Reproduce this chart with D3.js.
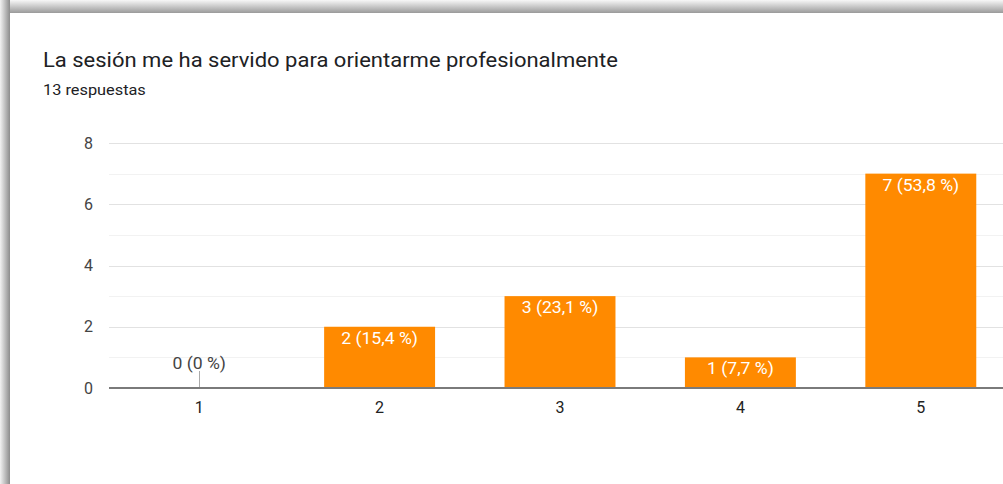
<!DOCTYPE html>
<html>
<head>
<meta charset="utf-8">
<script src="https://cdn.jsdelivr.net/npm/d3@7"></script>
<style>
  body { margin: 0; background: #fff; overflow: hidden; }
  text { font-family: Roboto, "Noto Sans", Arial, sans-serif; }
</style>
</head>
<body>
<div id="chart"></div>
<script>
// chart data
var title = "La sesión me ha servido para orientarme profesionalmente";
var subtitle = "13 respuestas";
var categories = ["1", "2", "3", "4", "5"];
var counts = [0, 2, 3, 1, 7];
var percents = ["0 %", "15,4 %", "23,1 %", "7,7 %", "53,8 %"];
var yTicks = [0, 2, 4, 6, 8];

var W = 1003, H = 484;
var plot = {left: 109, top: 143, bottom: 388, width: 902};

var svg = d3.select("#chart").append("svg")
    .attr("width", W)
    .attr("height", H);

// the screenshot is a bit stretched sideways, so text gets a horizontal scale
function stretched(sel, x, y, sx) {
  return sel.attr("transform", "translate(" + x + "," + y + ") scale(" + sx + ",1)");
}

// card shadow (top and left edges)
var defs = svg.append("defs");
var gl = defs.append("linearGradient").attr("id", "shL")
    .attr("x1", 0).attr("x2", 1).attr("y1", 0).attr("y2", 0);
gl.append("stop").attr("offset", 0).attr("stop-color", "#f2f2f2");
gl.append("stop").attr("offset", 1).attr("stop-color", "#8c8c8c");
var gt = defs.append("linearGradient").attr("id", "shT")
    .attr("x1", 0).attr("x2", 0).attr("y1", 0).attr("y2", 1);
gt.append("stop").attr("offset", 0).attr("stop-color", "#f7f7f7");
gt.append("stop").attr("offset", 1).attr("stop-color", "#9a9a9a");

svg.append("rect").attr("x", 0).attr("y", 0).attr("width", W).attr("height", 13).attr("fill", "url(#shT)");
svg.append("rect").attr("x", 0).attr("y", 0).attr("width", 10).attr("height", H).attr("fill", "url(#shL)");
svg.append("rect").attr("x", 10).attr("y", 13).attr("width", W - 10).attr("height", H - 13).attr("fill", "#fff");

// titles
svg.append("text")
    .call(stretched, 43, 67, 1.1)
    .attr("font-size", 20)
    .attr("fill", "#202124")
    .text(title);
svg.append("text")
    .call(stretched, 43, 95, 1.09)
    .attr("font-size", 15)
    .attr("fill", "#202124")
    .text(subtitle);

// scales
var x = d3.scaleBand()
    .domain(categories)
    .range([plot.left, plot.left + plot.width])
    .paddingInner(0.385)
    .paddingOuter(0.1925);
var y = d3.scaleLinear()
    .domain([0, 8])
    .range([plot.bottom, plot.top]);

// gridlines: minor at odd values, major at the tick values
var g = svg.append("g");
g.selectAll(".minor")
    .data(d3.range(1, 8, 2))
  .enter().append("line")
    .attr("x1", plot.left).attr("x2", W)
    .attr("y1", function(d) { return Math.round(y(d)) + 0.5; })
    .attr("y2", function(d) { return Math.round(y(d)) + 0.5; })
    .attr("stroke", "#f2f2f2");
g.selectAll(".major")
    .data(yTicks.slice(1))
  .enter().append("line")
    .attr("x1", plot.left).attr("x2", W)
    .attr("y1", function(d) { return Math.round(y(d)) + 0.5; })
    .attr("y2", function(d) { return Math.round(y(d)) + 0.5; })
    .attr("stroke", "#e2e2e2");

// y axis labels
var yAxis = d3.axisLeft(y).tickValues(yTicks).tickSize(0).tickPadding(16);
svg.append("g")
    .attr("transform", "translate(" + plot.left + ",0)")
    .call(yAxis)
    .call(function(s) { s.select(".domain").remove(); })
    .selectAll("text")
    .attr("font-family", "Roboto, sans-serif")
    .attr("font-size", 16)
    .attr("fill", "#444");

// bars
svg.append("g").selectAll("rect")
    .data(counts)
  .enter().append("rect")
    .attr("x", function(d, i) { return x(categories[i]); })
    .attr("y", function(d) { return y(d); })
    .attr("width", x.bandwidth())
    .attr("height", function(d) { return plot.bottom - y(d); })
    .attr("fill", "#ff8a00");

// value labels; a zero gets a small stem with the label above it
counts.forEach(function(d, i) {
  var cx = x(categories[i]) + x.bandwidth() / 2;
  var label = d + " (" + percents[i] + ")";
  if (d === 0) {
    svg.append("line")
        .attr("x1", Math.round(cx) + 0.5).attr("x2", Math.round(cx) + 0.5)
        .attr("y1", plot.bottom - 17).attr("y2", plot.bottom)
        .attr("stroke", "#aaa");
    svg.append("text")
        .call(stretched, cx, plot.bottom - 19, 1.1)
        .attr("text-anchor", "middle")
        .attr("font-size", 16)
        .attr("fill", "#444")
        .text(label);
  } else {
    svg.append("text")
        .call(stretched, cx, y(d) + 17, 1.1)
        .attr("text-anchor", "middle")
        .attr("font-size", 16)
        .attr("fill", "#fff")
        .text(label);
  }
});

// x axis
var xAxis = d3.axisBottom(x).tickSize(0).tickPadding(14);
svg.append("g")
    .attr("transform", "translate(0," + plot.bottom + ")")
    .call(xAxis)
    .call(function(s) { s.select(".domain").remove(); })
    .selectAll("text")
    .attr("font-family", "Roboto, sans-serif")
    .attr("font-size", 16)
    .attr("fill", "#222");

svg.append("line")
    .attr("x1", plot.left).attr("x2", W)
    .attr("y1", plot.bottom).attr("y2", plot.bottom)
    .attr("stroke", "#7a7a7a")
    .attr("stroke-width", 2);
</script>
</body>
</html>
